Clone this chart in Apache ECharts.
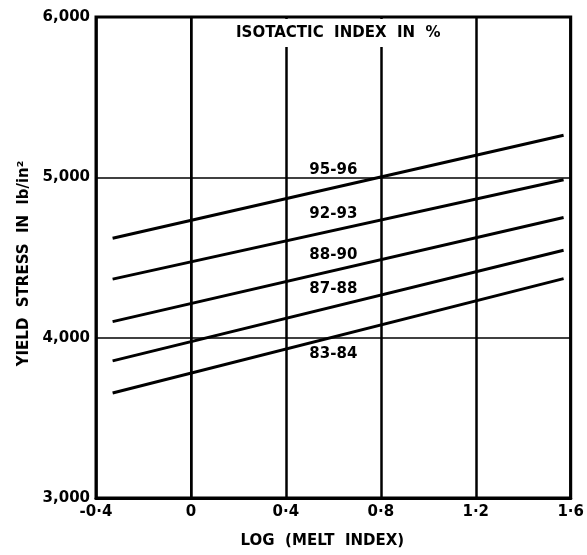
<!DOCTYPE html>
<html><head><meta charset="utf-8">
<script src="https://cdn.jsdelivr.net/npm/echarts@6/dist/echarts.min.js"></script>
<style>html,body{margin:0;padding:0;background:#fff}#c{width:587px;height:555px}</style>
</head><body><div id="c"></div>
<script>
// Data
const xEnds = [-0.33, 1.57];            // log(melt index) at line ends
const seriesNames = ['95-96', '92-93', '88-90', '87-88', '83-84'];
const s9596 = [4620, 5262];
const s9293 = [4365, 4985];
const s8890 = [4100, 4750];
const s8788 = [3855, 4545];
const s8384 = [3655, 4368];
const labelX = [0.6, 0.6, 0.6, 0.6, 0.6];
const labelY = [5045, 4770, 4513, 4305, 3895];
const yTicks = ['3,000', '4,000', '5,000', '6,000'];
const xTickLabels = {'-0.4': '-0·4', '0': '0', '0.4': '0·4', '0.8': '0·8', '1.2': '1·2', '1.6': '1·6'};

const allVals = [s9596, s9293, s8890, s8788, s8384];
const FONT = '"DejaVu Sans", sans-serif';

const series = allVals.map((vals, i) => ({
  type: 'line',
  name: seriesNames[i],
  data: vals.map((v, j) => [xEnds[j], v]),
  symbol: 'none',
  lineStyle: {color: '#000', width: 3},
  silent: true,
  z: 3,
  markPoint: {
    symbol: 'rect', symbolSize: 0,
    data: [{coord: [labelX[i], labelY[i]],
      label: {show: true, formatter: seriesNames[i], color: '#000',
        fontFamily: FONT, fontWeight: 'bold', fontSize: 15}}]
  }
}));

const chart = echarts.init(document.getElementById('c'), null, {renderer: 'canvas'});
chart.setOption({
  animation: false,
  backgroundColor: '#fff',
  title: {
    text: 'ISOTACTIC  INDEX  IN  %',
    left: 232, top: 19,
    backgroundColor: '#fff',
    padding: [7, 4, 6, 4],
    textStyle: {fontFamily: FONT, fontWeight: 'bold', fontSize: 15, color: '#000', lineHeight: 15}
  },
  grid: {left: 96, right: 15, top: 17, bottom: 57, show: true, borderColor: '#000', borderWidth: 3, z: 0},
  xAxis: {
    type: 'value', min: -0.4, max: 1.6, interval: 0.4,
    name: 'LOG  (MELT  INDEX)', nameLocation: 'middle', nameGap: 36,
    nameTextStyle: {fontFamily: FONT, fontWeight: 'bold', fontSize: 15, color: '#000', padding: [0, 22, 0, 0]},
    axisLine: {show: true, lineStyle: {color: '#000', width: 3}},
    axisTick: {show: false},
    axisLabel: {
      color: '#000', fontFamily: FONT, fontWeight: 'bold', fontSize: 15, margin: 7,
      formatter: v => xTickLabels[String(Math.round(v * 10) / 10)] ?? ''
    },
    splitLine: {show: true, lineStyle: {color: '#000', width: 2.5}}
  },
  yAxis: {
    type: 'value', min: 3000, max: 6000, interval: 1000,
    name: 'YIELD  STRESS  IN  lb/in²', nameLocation: 'middle', nameGap: 62,
    nameTextStyle: {fontFamily: FONT, fontWeight: 'bold', fontSize: 15, color: '#000', padding: [0, 12, 0, 0]},
    axisLine: {show: true, lineStyle: {color: '#000', width: 2}},
    axisTick: {show: false},
    axisLabel: {
      color: '#000', fontFamily: FONT, fontWeight: 'bold', fontSize: 15, margin: 6,
      formatter: v => yTicks[Math.round((v - 3000) / 1000)]
    },
    splitLine: {show: true, lineStyle: {color: '#000', width: 1.5}}
  },
  series: series
});
</script></body></html>
